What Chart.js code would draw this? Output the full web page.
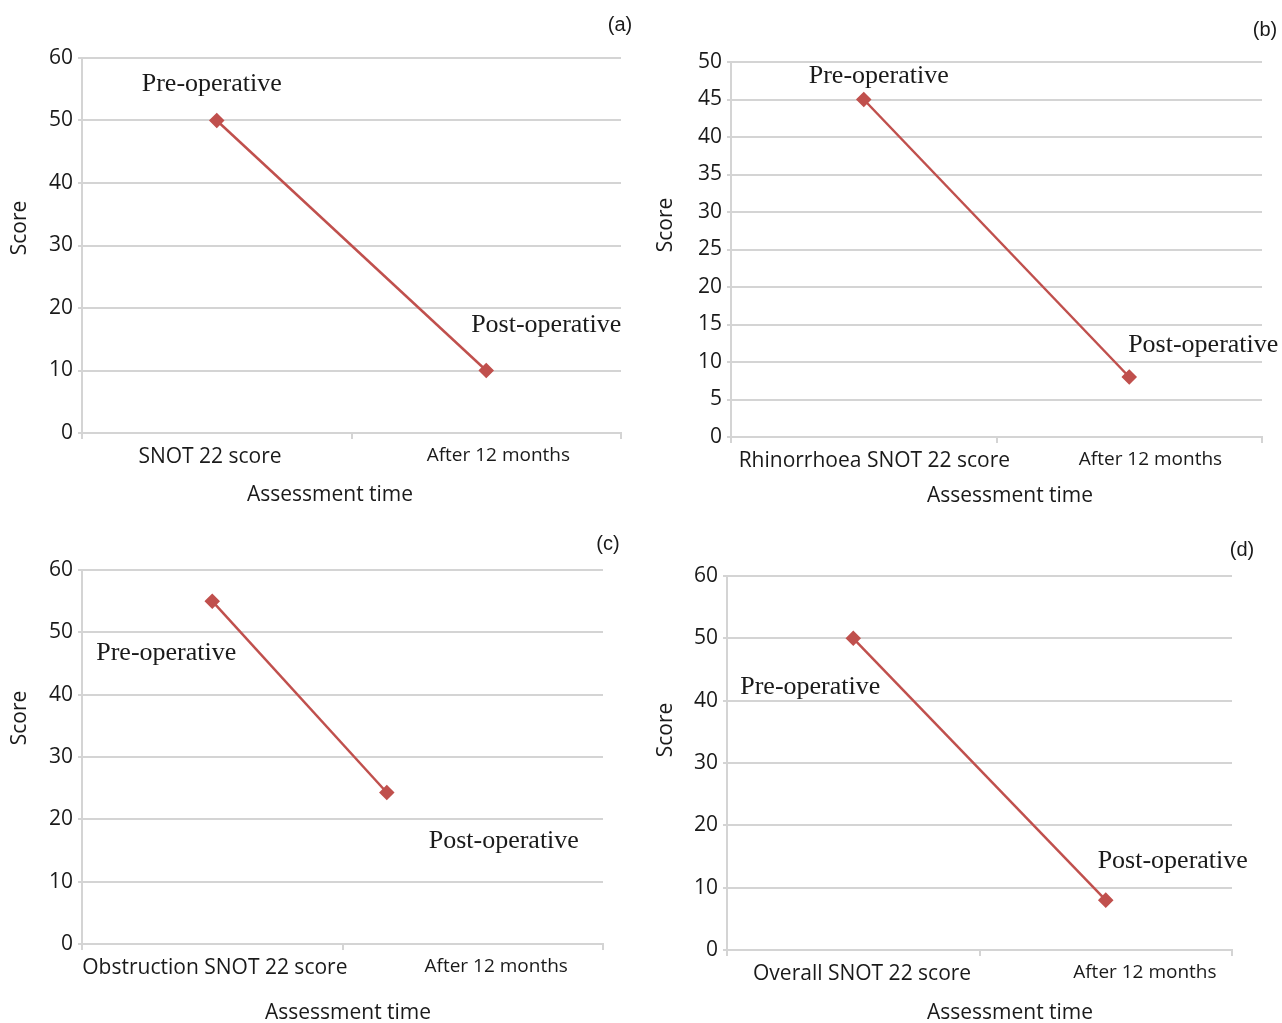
<!DOCTYPE html>
<html>
<head>
<meta charset="utf-8">
<script src="https://cdn.jsdelivr.net/npm/chart.js@4.4.1/dist/chart.umd.min.js"></script>
<style>
  body { margin: 0; background: #fff; }
  #wrap { position: relative; width: 1282px; height: 1023px; }
  canvas { position: absolute; }
</style>
</head>
<body>
<div id="wrap">
  <canvas id="chartA" width="640" height="520" style="left:0;top:0"></canvas>
  <canvas id="chartB" width="642" height="520" style="left:640px;top:0"></canvas>
  <canvas id="chartC" width="640" height="503" style="left:0;top:520px"></canvas>
  <canvas id="chartD" width="642" height="503" style="left:640px;top:520px"></canvas>
</div>
<script>
// data
const catsA = ['SNOT 22 score', 'After 12 months'];
const catsB = ['Rhinorrhoea SNOT 22 score', 'After 12 months'];
const catsC = ['Obstruction SNOT 22 score', 'After 12 months'];
const catsD = ['Overall SNOT 22 score', 'After 12 months'];

const scoresA = [50, 10];
const scoresB = [45, 8];
const scoresC = [55, 24.3];
const scoresD = [50, 8];

// where each point sits along the time axis (0..2, categories centred on 0.5 and 1.5)
const timeA = [0.5, 1.5];
const timeB = [0.5, 1.5];
const timeC = [0.5, 1.17];
const timeD = [0.5, 1.5];

const noteTexts = ['Pre-operative', 'Post-operative'];

const RED = '#c0504d';
const GRID = '#d4d4d4';
const TEXT = '#1a1a1a';
const SANS = '"Open Sans", "DejaVu Sans", sans-serif';

// serif point captions, axis titles and the panel letter
const notesPlugin = {
  id: 'notes',
  afterDatasetsDraw(chart, args, opts) {
    const ctx = chart.ctx;
    const meta = chart.getDatasetMeta(0);
    ctx.save();
    ctx.fillStyle = TEXT;
    ctx.textAlign = 'center';
    ctx.textBaseline = 'middle';
    ctx.font = '26px "Liberation Serif", serif';
    meta.data.forEach((pt, i) => {
      const off = opts.offsets[i];
      ctx.fillText(noteTexts[i], pt.x + off[0], pt.y + off[1]);
    });
    ctx.font = '21px ' + SANS;
    ctx.fillText('Assessment time', opts.xTitle[0], opts.xTitle[1]);
    ctx.save();
    ctx.translate(opts.yTitle[0], opts.yTitle[1]);
    ctx.rotate(-Math.PI / 2);
    ctx.fillText('Score', 0, 0);
    ctx.restore();
    ctx.font = '20px "Liberation Sans", Arial, sans-serif';
    ctx.fillText(opts.tag, opts.tagPos[0], opts.tagPos[1]);
    ctx.restore();
  }
};

function makePanel(id, p) {
  const canvas = document.getElementById(id);
  const W = canvas.width, H = canvas.height;
  const tickVals = [0, p.labelAt[0], 1, p.labelAt[1], 2];

  new Chart(canvas, {
    type: 'line',
    data: {
      datasets: [{
        data: p.time.map((t, i) => ({ x: t, y: p.scores[i] })),
        borderColor: RED,
        backgroundColor: RED,
        borderWidth: 2.5,
        pointStyle: 'rectRot',
        pointRadius: 6,
        pointHoverRadius: 6
      }]
    },
    options: {
      responsive: false,
      animation: false,
      events: [],
      layout: { padding: { top: p.area.top, right: W - p.area.right, left: 0, bottom: 0 } },
      plugins: {
        legend: { display: false },
        tooltip: { enabled: false },
        notes: { offsets: p.offsets, tag: p.tag, tagPos: p.tagPos, xTitle: p.xTitle, yTitle: p.yTitle }
      },
      scales: {
        x: {
          type: 'linear',
          min: 0,
          max: 2,
          afterBuildTicks: s => { s.ticks = tickVals.map(v => ({ value: v })); },
          afterFit: s => { s.height = H - p.area.bottom; },
          grid: {
            drawOnChartArea: false,
            tickLength: 6,
            lineWidth: 2,
            color: c => (c.tick && Number.isInteger(c.tick.value)) ? GRID : 'rgba(0,0,0,0)'
          },
          border: { color: GRID, width: 2 },
          ticks: {
            autoSkip: false,
            maxRotation: 0,
            padding: 5,
            color: TEXT,
            font: c => ({ family: SANS, size: (c.tick && c.tick.value === p.labelAt[1]) ? 19 : 21 }),
            callback: v => v === p.labelAt[0] ? p.cats[0] : (v === p.labelAt[1] ? p.cats[1] : '')
          }
        },
        y: {
          min: 0,
          max: p.max,
          afterFit: s => { s.width = p.area.left; },
          ticks: {
            stepSize: p.step,
            padding: 5,
            color: TEXT,
            font: { family: SANS, size: 21 }
          },
          grid: { color: GRID, lineWidth: 2, tickLength: 4 },
          border: { color: GRID, width: 2 }
        }
      }
    },
    plugins: [notesPlugin]
  });
}

makePanel('chartA', {
  cats: catsA, scores: scoresA, time: timeA, max: 60, step: 10,
  area: { left: 82, right: 621, top: 58, bottom: 433 },
  labelAt: [0.475, 1.545],
  xTitle: [330, 495], yTitle: [20, 228],
  offsets: [[-5, -36], [60, -45]],
  tag: '(a)', tagPos: [620, 25]
});

makePanel('chartB', {
  cats: catsB, scores: scoresB, time: timeB, max: 50, step: 5,
  area: { left: 91, right: 622, top: 62, bottom: 437 },
  labelAt: [0.54, 1.58],
  xTitle: [370, 496], yTitle: [26, 225],
  offsets: [[15, -23], [74, -32]],
  tag: '(b)', tagPos: [625, 30]
});

makePanel('chartC', {
  cats: catsC, scores: scoresC, time: timeC, max: 60, step: 10,
  area: { left: 82, right: 603, top: 50, bottom: 424 },
  labelAt: [0.51, 1.59],
  xTitle: [348, 493], yTitle: [20, 198],
  offsets: [[-46, 52], [117, 49]],
  tag: '(c)', tagPos: [608, 24]
});

makePanel('chartD', {
  cats: catsD, scores: scoresD, time: timeD, max: 60, step: 10,
  area: { left: 87, right: 592, top: 56, bottom: 430 },
  labelAt: [0.535, 1.655],
  xTitle: [370, 493], yTitle: [26, 210],
  offsets: [[-43, 49], [67, -39]],
  tag: '(d)', tagPos: [602, 30]
});
</script>
</body>
</html>
